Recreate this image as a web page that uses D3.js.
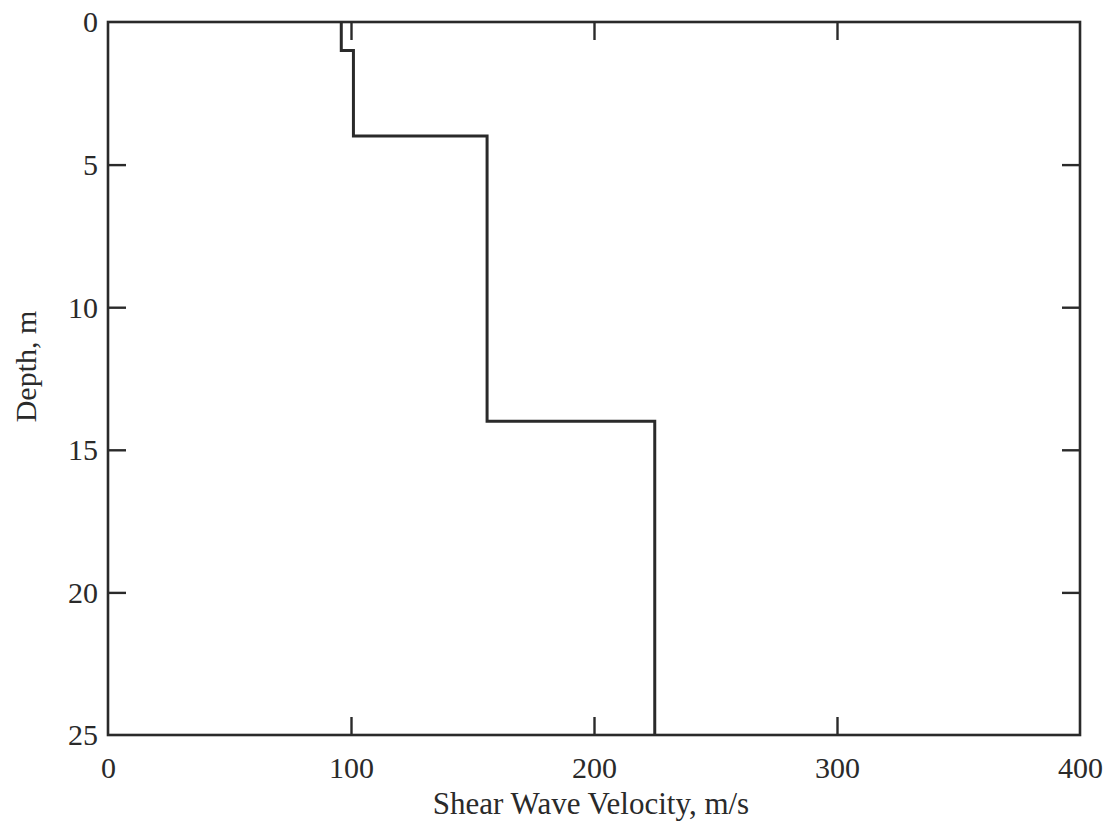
<!DOCTYPE html>
<html>
<head>
<meta charset="utf-8">
<script src="https://cdn.jsdelivr.net/npm/d3@7"></script>
<style>
  html, body { margin: 0; padding: 0; background: #fff; }
  svg { display: block; }
  text { font-family: "Liberation Serif", "Times New Roman", serif; fill: #2a2a2a; }
</style>
</head>
<body>
<svg id="chart" width="1106" height="821"></svg>
<script>
// Layered shear wave velocity profile (step function with depth)
const layerTopDepths = [0, 1, 4, 14];
const layerBottomDepths = [1, 4, 14, 25];
const layerVelocities = [96, 101, 156, 225];

const xTicks = [0, 100, 200, 300, 400];
const yTicks = [0, 5, 10, 15, 20, 25];

const xTitle = "Shear Wave Velocity, m/s";
const yTitle = "Depth, m";

const W = 1106, H = 821;
const margin = { top: 22, right: 26, bottom: 86, left: 108 };
const innerW = W - margin.left - margin.right;
const innerH = H - margin.top - margin.bottom;

const svg = d3.select("#chart");
const g = svg.append("g").attr("transform", `translate(${margin.left},${margin.top})`);

const x = d3.scaleLinear().domain([0, 400]).range([0, innerW]);
const y = d3.scaleLinear().domain([0, 25]).range([0, innerH]);

const ink = "#2a2a2a";
const tickLen = 18;
const tickFont = 30;
const titleFont = 31;

// Build the step path points from the layer arrays
const pts = [];
layerVelocities.forEach((v, i) => {
  pts.push([v, layerTopDepths[i]]);
  pts.push([v, layerBottomDepths[i]]);
});

// Frame
g.append("rect")
  .attr("x", 0).attr("y", 0)
  .attr("width", innerW).attr("height", innerH)
  .attr("fill", "none").attr("stroke", ink).attr("stroke-width", 2.6);

// Bottom axis with labels
const xAxisBottom = d3.axisBottom(x).tickValues(xTicks).tickSizeInner(-tickLen).tickSizeOuter(0).tickPadding(40);
const gxb = g.append("g").attr("transform", `translate(0,${innerH})`).call(xAxisBottom);
// Top axis (ticks only)
const xAxisTop = d3.axisTop(x).tickValues(xTicks.slice(1, -1)).tickSizeInner(-tickLen).tickSizeOuter(0).tickFormat("");
const gxt = g.append("g").call(xAxisTop);
// Left axis with labels
const yAxisLeft = d3.axisLeft(y).tickValues(yTicks).tickSizeInner(-tickLen).tickSizeOuter(0).tickPadding(10);
const gyl = g.append("g").call(yAxisLeft);
// Right axis (ticks only)
const yAxisRight = d3.axisRight(y).tickValues(yTicks.slice(1, -1)).tickSizeInner(-tickLen).tickSizeOuter(0).tickFormat("");
const gyr = g.append("g").attr("transform", `translate(${innerW},0)`).call(yAxisRight);

[gxb, gxt, gyl, gyr].forEach(a => {
  a.select(".domain").remove();
  a.selectAll(".tick line").attr("stroke", ink).attr("stroke-width", 2.4);
  a.selectAll(".tick").filter(d => d === 0 || d === 400 || d === 25).select("line").remove();
  a.selectAll("text")
    .attr("font-family", '"Liberation Serif", "Times New Roman", serif')
    .attr("font-size", tickFont)
    .attr("fill", ink);
});
gxb.selectAll("text").attr("dy", "0.1em");
gyl.selectAll("text").attr("dy", "0.33em");

// Velocity profile
const line = d3.line().x(d => x(d[0])).y(d => y(d[1]));
g.append("path")
  .datum(pts)
  .attr("d", line)
  .attr("fill", "none")
  .attr("stroke", ink)
  .attr("stroke-width", 3)
  .attr("stroke-linejoin", "miter");

// Axis titles
g.append("text")
  .attr("x", innerW / 2 - 3)
  .attr("y", innerH + 79)
  .attr("text-anchor", "middle")
  .attr("font-size", titleFont)
  .text(xTitle);

g.append("text")
  .attr("transform", `translate(${-72},${innerH / 2 - 12}) rotate(-90)`)
  .attr("text-anchor", "middle")
  .attr("font-size", tickFont)
  .text(yTitle);
</script>
</body>
</html>
